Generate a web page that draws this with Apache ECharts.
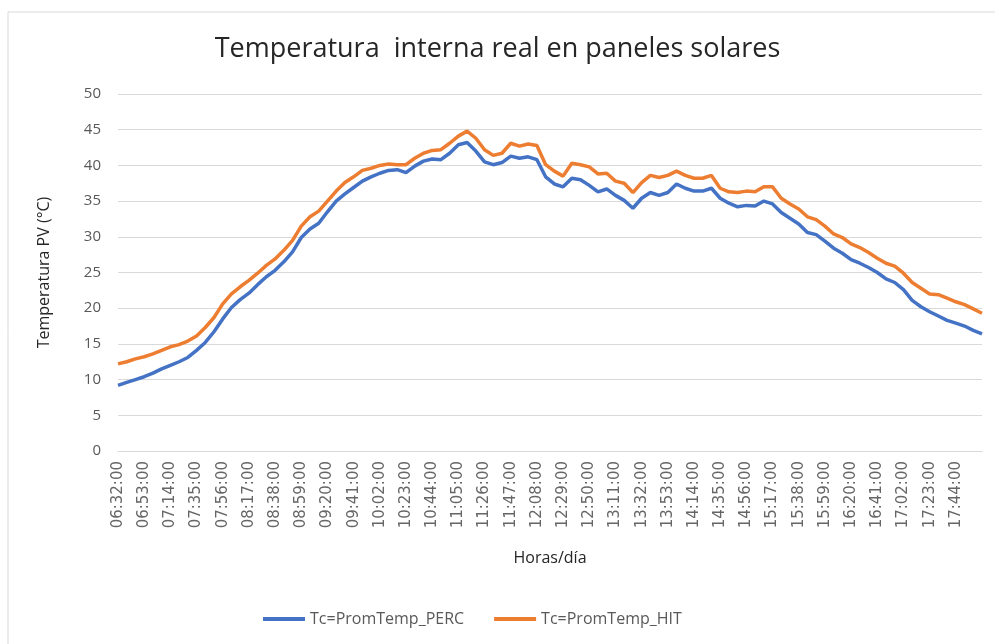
<!DOCTYPE html>
<html>
<head>
<meta charset="utf-8">
<script src="https://cdn.jsdelivr.net/npm/echarts@6/dist/echarts.min.js"></script>
<style>
  html, body { margin: 0; padding: 0; background: #fff; }
  #chart { width: 995px; height: 644px; }
</style>
</head>
<body>
<div id="chart"></div>
<script>
// categories every 7 minutes from 06:32:00
const startMin = 6 * 60 + 32;
const times = [];
for (let i = 0; i < 100; i++) {
  const m = startMin + i * 7;
  const h = Math.floor(m / 60);
  const mm = m % 60;
  times.push(String(h).padStart(2, "0") + ":" + String(mm).padStart(2, "0") + ":00");
}

const perc = [
  9.2, 9.6, 10.0, 10.4, 10.9, 11.5, 12.0, 12.5, 13.1, 14.1,
  15.2, 16.7, 18.5, 20.1, 21.2, 22.1, 23.3, 24.4, 25.3, 26.5,
  27.9, 29.9, 31.1, 31.9, 33.5, 35.0, 36.0, 36.9, 37.8, 38.4,
  38.9, 39.3, 39.4, 39.0, 39.9, 40.6, 40.9, 40.8, 41.7, 42.9,
  43.2, 42.0, 40.5, 40.1, 40.4, 41.3, 41.0, 41.2, 40.8, 38.4,
  37.4, 37.0, 38.2, 38.0, 37.2, 36.3, 36.7, 35.8, 35.1, 34.0,
  35.4, 36.2, 35.8, 36.2, 37.4, 36.8, 36.4, 36.4, 36.8, 35.4,
  34.7, 34.2, 34.4, 34.3, 35.0, 34.6, 33.4, 32.6, 31.8, 30.6,
  30.3, 29.4, 28.4, 27.7, 26.8, 26.3, 25.7, 25.0, 24.1, 23.6,
  22.6, 21.1, 20.2, 19.5, 18.9, 18.3, 17.9, 17.5, 16.9, 16.4
];

const hit = [
  12.2, 12.5, 12.9, 13.2, 13.6, 14.1, 14.6, 14.9, 15.4, 16.1,
  17.3, 18.7, 20.6, 22.0, 23.0, 23.9, 24.9, 26.0, 26.9, 28.1,
  29.5, 31.5, 32.8, 33.6, 35.0, 36.4, 37.6, 38.4, 39.3, 39.6,
  40.0, 40.2, 40.1, 40.1, 41.0, 41.7, 42.1, 42.2, 43.1, 44.1,
  44.8, 43.8, 42.2, 41.4, 41.7, 43.1, 42.7, 43.0, 42.8, 40.1,
  39.2, 38.5, 40.3, 40.1, 39.8, 38.8, 38.9, 37.8, 37.5, 36.2,
  37.6, 38.6, 38.3, 38.6, 39.2, 38.6, 38.2, 38.2, 38.6, 36.8,
  36.3, 36.2, 36.4, 36.3, 37.0, 37.0, 35.4, 34.6, 33.9, 32.8,
  32.4, 31.5, 30.4, 29.9, 29.0, 28.5, 27.8, 27.0, 26.3, 25.9,
  24.9, 23.6, 22.8, 22.0, 21.9, 21.4, 20.9, 20.5, 19.9, 19.3
];

const chart = echarts.init(document.getElementById("chart"));
const font = "'Open Sans', 'Noto Sans', sans-serif";

const option = {
  backgroundColor: "#fff",
  animation: false,
  textStyle: { fontFamily: font },
  title: {
    text: "Temperatura  interna real en paneles solares",
    left: "center",
    top: 31,
    textStyle: { fontSize: 27, fontWeight: "normal", color: "#262626", fontFamily: font },
  },
  graphic: [
    {
      type: "rect",
      shape: { x: 8, y: 12, width: 1000, height: 700 },
      style: { fill: "none", stroke: "#d9d9d9", lineWidth: 1 },
      silent: true,
    },
  ],
  legend: {
    bottom: 12,
    left: 258,
    icon: "rect",
    itemWidth: 42,
    itemHeight: 4,
    itemGap: 30,
    textStyle: { fontSize: 16, color: "#595959", fontFamily: font },
    data: ["Tc=PromTemp_PERC", "Tc=PromTemp_HIT"],
  },
  grid: {
    left: 118,
    right: 13,
    top: 94,
    bottom: 193,
  },
  xAxis: {
    type: "category",
    boundaryGap: false,
    data: times,
    name: "Horas/día",
    nameLocation: "middle",
    nameGap: 99,
    nameTextStyle: { fontSize: 16, color: "#262626", fontFamily: font },
    axisLine: { lineStyle: { color: "#d9d9d9" } },
    axisTick: { show: false },
    axisLabel: {
      interval: (idx) => idx % 3 === 0 && idx < 99,
      rotate: 90,
      fontSize: 15,
      fontFamily: "'DejaVu Sans', sans-serif",
      color: "#666666",
      margin: 10,
    },
  },
  yAxis: {
    type: "value",
    min: 0,
    max: 50,
    interval: 5,
    name: "Temperatura PV (°C)",
    nameLocation: "middle",
    nameGap: 66,
    nameTextStyle: { fontSize: 16, color: "#262626", fontFamily: font },
    axisLine: { show: false },
    axisTick: { show: false },
    axisLabel: { fontSize: 15, color: "#595959", margin: 17 },
    splitLine: { lineStyle: { color: "#d9d9d9", width: 1 } },
  },
  series: [
    {
      name: "Tc=PromTemp_PERC",
      type: "line",
      data: perc,
      showSymbol: false,
      lineStyle: { width: 3.5, color: "#4472C4" },
      itemStyle: { color: "#4472C4" },
    },
    {
      name: "Tc=PromTemp_HIT",
      type: "line",
      data: hit,
      showSymbol: false,
      lineStyle: { width: 3.5, color: "#ED7D31" },
      itemStyle: { color: "#ED7D31" },
    },
  ],
};
chart.setOption(option);
</script>
</body>
</html>
